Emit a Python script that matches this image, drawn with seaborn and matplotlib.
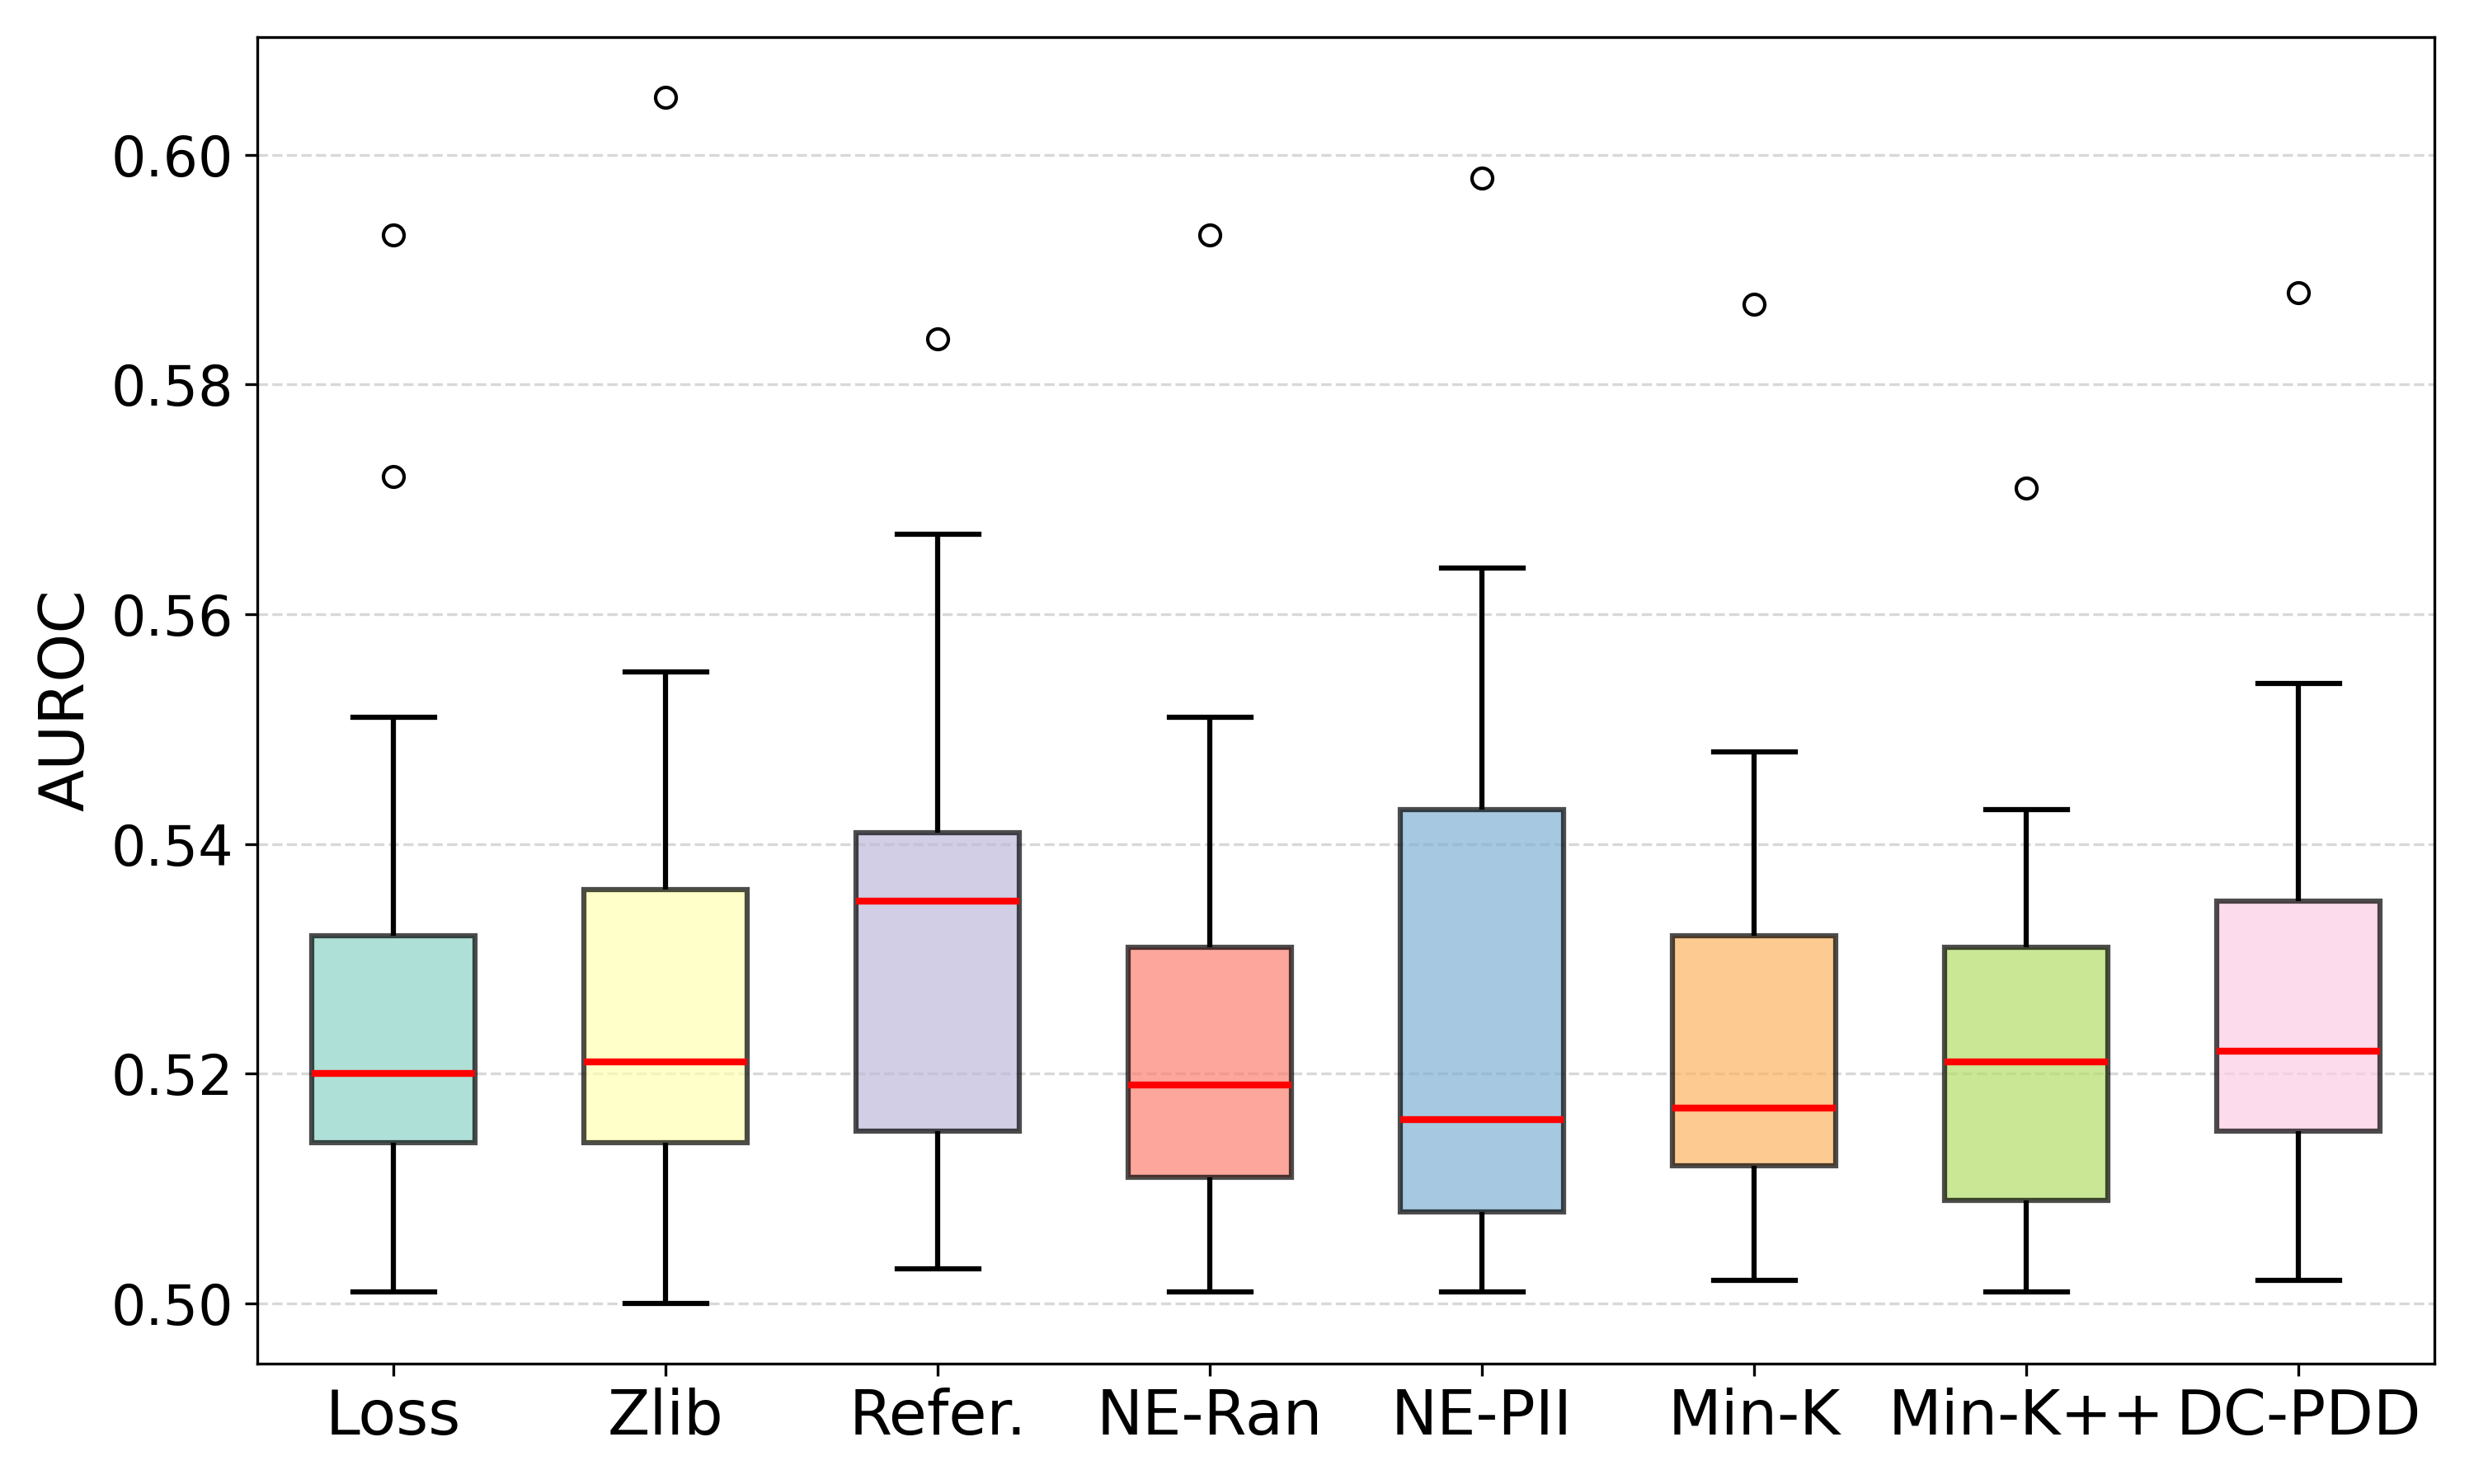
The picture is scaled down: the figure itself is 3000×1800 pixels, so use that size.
import numpy as np
import pandas as pd
import matplotlib
matplotlib.use("Agg")
import matplotlib.pyplot as plt
import seaborn as sns

methods = ["Loss", "Zlib", "Refer.", "NE-Ran", "NE-PII", "Min-K", "Min-K++", "DC-PDD"]

loss = [0.501, 0.508, 0.512, 0.514, 0.516, 0.518, 0.520, 0.524, 0.528, 0.532, 0.551, 0.572, 0.593]
zlib = [0.500, 0.507, 0.511, 0.514, 0.517, 0.519, 0.521, 0.526, 0.531, 0.536, 0.545, 0.555, 0.605]
refer = [0.503, 0.508, 0.512, 0.515, 0.524, 0.530, 0.535, 0.537, 0.539, 0.541, 0.553, 0.567, 0.584]
ne_ran = [0.501, 0.505, 0.508, 0.511, 0.514, 0.517, 0.519, 0.523, 0.527, 0.531, 0.541, 0.551, 0.593]
ne_pii = [0.501, 0.504, 0.506, 0.508, 0.511, 0.514, 0.516, 0.525, 0.534, 0.543, 0.553, 0.564, 0.598]
min_k = [0.502, 0.506, 0.509, 0.512, 0.514, 0.516, 0.517, 0.522, 0.527, 0.532, 0.540, 0.548, 0.587]
min_kpp = [0.501, 0.504, 0.507, 0.509, 0.513, 0.517, 0.521, 0.524, 0.528, 0.531, 0.537, 0.543, 0.571]
dc_pdd = [0.502, 0.507, 0.511, 0.515, 0.518, 0.520, 0.522, 0.526, 0.531, 0.535, 0.545, 0.554, 0.588]

series = [loss, zlib, refer, ne_ran, ne_pii, min_k, min_kpp, dc_pdd]
df = pd.DataFrame({
    "Method": np.repeat(methods, [len(s) for s in series]),
    "AUROC": np.concatenate(series),
})

colors = sns.color_palette("Set3", 8)

fig, ax = plt.subplots(figsize=(10, 6), dpi=300)
sns.boxplot(
    data=df, x="Method", y="AUROC", hue="Method", order=methods, hue_order=methods,
    palette=colors, saturation=1, legend=False, width=0.6, ax=ax,
    linecolor="black",
    boxprops=dict(alpha=0.7, linewidth=1.5, edgecolor="black"),
    medianprops=dict(color="red", linewidth=2),
    whiskerprops=dict(color="black", linewidth=1.5),
    capprops=dict(color="black", linewidth=1.5),
    flierprops=dict(marker="o", markerfacecolor="none", markeredgecolor="black", markersize=6),
)
ax.set_xlabel("")
ax.set_ylabel("AUROC", fontsize=18)
ax.tick_params(axis="y", labelsize=16)
ax.tick_params(axis="x", labelsize=18)
ax.yaxis.grid(True, linestyle="--", color="gray", alpha=0.3)
ax.set_axisbelow(True)
ax.set_yticks([0.50, 0.52, 0.54, 0.56, 0.58, 0.60])
ax.set_yticklabels(["0.50", "0.52", "0.54", "0.56", "0.58", "0.60"])
ax.set_ylim(0.49475, 0.61025)
ax.set_xlim(-0.5, 7.5)
fig.subplots_adjust(left=0.104, right=0.984, top=0.975, bottom=0.081)
fig.savefig("out.png", dpi=300)
